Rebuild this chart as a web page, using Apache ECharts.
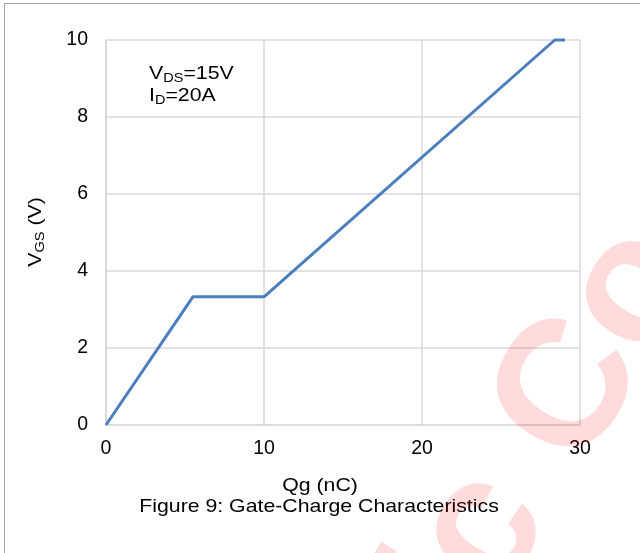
<!DOCTYPE html>
<html><head><meta charset="utf-8">
<style>html,body{margin:0;padding:0;background:#fff}#c{width:640px;height:553px}</style>
<script src="https://cdn.jsdelivr.net/npm/echarts@6/dist/echarts.min.js"></script>
</head><body><div id="c"></div>
<script>
// Data
var qg = [0, 5.5, 10, 28.4, 29.05];        // Qg (nC)
var vgs = [0, 3.33, 3.33, 10, 10];          // VGS (V)
var xTicks = [0, 10, 20, 30];
var yTicks = [0, 2, 4, 6, 8, 10];

var chart = echarts.init(document.getElementById('c'), null, {renderer: 'canvas'});
var FONT = '"Liberation Sans", Arial, sans-serif';
var pts = qg.map(function (x, i) { return [x, vgs[i]]; });
var SX = 1.12;

chart.setOption({
  animation: false,
  backgroundColor: '#fff',
  grid: {left: 106, right: 60, top: 40, bottom: 128, containLabel: false},
  xAxis: {
    type: 'value', min: xTicks[0], max: xTicks[xTicks.length - 1], interval: 10,
    axisLine: {show: true, lineStyle: {color: '#d9d9d9', width: 1.5}},
    axisTick: {show: false},
    splitLine: {show: true, lineStyle: {color: '#d9d9d9', width: 1.5}},
    axisLabel: {color: '#000', fontSize: 19.5, fontFamily: FONT, margin: 14}
  },
  yAxis: {
    type: 'value', min: yTicks[0], max: yTicks[yTicks.length - 1], interval: 2,
    axisLine: {show: true, lineStyle: {color: '#d9d9d9', width: 1.5}},
    axisTick: {show: false},
    splitLine: {show: true, lineStyle: {color: '#d9d9d9', width: 1.5}},
    axisLabel: {color: '#000', fontSize: 19.5, fontFamily: FONT, margin: 18}
  },
  series: [{
    type: 'line', data: pts, showSymbol: false, symbol: 'none',
    lineStyle: {color: '#4a7ebf', width: 3}, clip: false
  }],
  graphic: [
    {type: 'line', shape: {x1: 4, y1: 3.5, x2: 640, y2: 3.5}, style: {stroke: '#a6a6a6', lineWidth: 1}},
    {type: 'line', shape: {x1: 4.5, y1: 3, x2: 4.5, y2: 553}, style: {stroke: '#a6a6a6', lineWidth: 1}},
    {type: 'text', x: 547, y: 430, rotation: 1.01, z: 100, silent: true,
      style: {text: 'ic Co', font: 'bold 180px ' + FONT, fill: 'rgba(255,0,0,0.14)', textAlign: 'center', textVerticalAlign: 'middle'}},
    {type: 'text', x: 36, y: 232, rotation: Math.PI / 2, scaleX: SX,
      style: {text: '{m|V}{s|GS}{m| (V)}', textAlign: 'center', textVerticalAlign: 'middle', rich: {
        m: {fontSize: 19, fontFamily: FONT, fill: '#000'},
        s: {fontSize: 13, fontFamily: FONT, fill: '#000', padding: [9, 0, 0, 0]}}}},
    {type: 'text', x: 149, y: 63, scaleX: SX,
      style: {text: '{m|V}{s|DS}{m|=15V}', rich: {
        m: {fontSize: 19, fontFamily: FONT, fill: '#000'},
        s: {fontSize: 13, fontFamily: FONT, fill: '#000', padding: [9, 0, 0, 0]}}}},
    {type: 'text', x: 149, y: 85, scaleX: SX,
      style: {text: '{m|I}{s|D}{m|=20A}', rich: {
        m: {fontSize: 19, fontFamily: FONT, fill: '#000'},
        s: {fontSize: 13, fontFamily: FONT, fill: '#000', padding: [9, 0, 0, 0]}}}},
    {type: 'text', x: 320, y: 486, scaleX: SX,
      style: {text: 'Qg (nC)', font: '19px ' + FONT, fill: '#000', textAlign: 'center', textVerticalAlign: 'middle'}},
    {type: 'text', x: 319, y: 507, scaleX: SX,
      style: {text: 'Figure 9: Gate-Charge Characteristics', font: '19px ' + FONT, fill: '#000', textAlign: 'center', textVerticalAlign: 'middle'}}
  ]
});
</script></body></html>
